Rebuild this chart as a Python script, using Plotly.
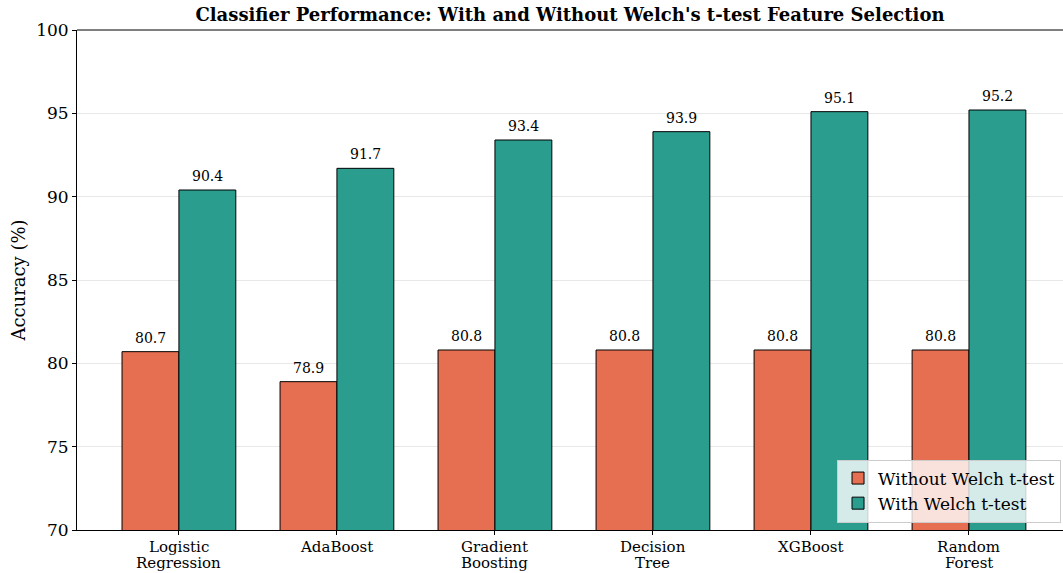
import plotly.graph_objects as go

classifiers = ["Logistic\nRegression", "AdaBoost", "Gradient\nBoosting",
               "Decision\nTree", "XGBoost", "Random\nForest"]
without_welch = [80.7, 78.9, 80.8, 80.8, 80.8, 80.8]
with_welch = [90.4, 91.7, 93.4, 93.9, 95.1, 95.2]

positions = list(range(len(classifiers)))
bar_w = 0.36
font_family = "DejaVu Serif"

fig = go.Figure()
fig.add_trace(go.Bar(
    x=positions, y=without_welch, width=bar_w, offset=-bar_w,
    name="Without Welch t-test",
    marker=dict(color="#E76F51", line=dict(color="black", width=1)),
))
fig.add_trace(go.Bar(
    x=positions, y=with_welch, width=bar_w, offset=0,
    name="With Welch t-test",
    marker=dict(color="#2A9D8F", line=dict(color="black", width=1)),
))

annotations = []
# value labels above each bar
for i, (a, b) in enumerate(zip(without_welch, with_welch)):
    for xv, yv in ((i - bar_w / 2, a), (i + bar_w / 2, b)):
        annotations.append(dict(
            x=xv, y=yv, text=f"{yv:.1f}", showarrow=False,
            yanchor="bottom", yshift=4,
            font=dict(family=font_family, size=14, color="black"),
        ))

# category labels under the axis, one line at a time for tight line spacing
for pos, label in zip(positions, classifiers):
    for k, line in enumerate(label.split("\n")):
        annotations.append(dict(
            x=pos, xref="x", y=0, yref="paper", text=line, showarrow=False,
            yanchor="middle", yshift=-17 - 16 * k,
            font=dict(family=font_family, size=15, color="black"),
        ))

fig.update_layout(
    width=1063, height=573,
    margin=dict(l=77, r=0, t=30, b=43),
    paper_bgcolor="white", plot_bgcolor="white",
    barmode="overlay",
    font=dict(family=font_family, color="black"),
    title=dict(
        text="<b>Classifier Performance: With and Without Welch's t-test Feature Selection</b>",
        x=0.5, xref="paper", xanchor="center", y=0.974, yanchor="middle",
        font=dict(family=font_family, size=18, color="black"),
    ),
    annotations=annotations,
    legend=dict(
        x=0.998, y=0.015, xanchor="right", yanchor="bottom",
        bgcolor="rgba(255,255,255,0.8)", bordercolor="#CCCCCC", borderwidth=1,
        font=dict(family=font_family, size=17, color="black"),
        tracegroupgap=2,
    ),
    xaxis=dict(
        range=[-0.645, 5.595], automargin=False,
        tickmode="array", tickvals=positions, showticklabels=False,
        ticks="outside", ticklen=4, tickcolor="black",
        showline=True, linecolor="black", linewidth=1,
        showgrid=False, zeroline=False,
    ),
    yaxis=dict(
        range=[70, 100], dtick=5, automargin=False,
        tickfont=dict(family=font_family, size=17, color="black"),
        ticks="outside", ticklen=4, tickcolor="black",
        showline=True, linecolor="black", linewidth=1, mirror=False,
        showgrid=True, gridcolor="#E8E8E8", gridwidth=1, zeroline=False,
        title=dict(text="Accuracy (%)", font=dict(family=font_family, size=18, color="black"), standoff=5),
    ),
    shapes=[dict(type="line", xref="paper", yref="paper", x0=0, x1=1, y0=1, y1=1,
                 line=dict(color="black", width=1))],
)

fig.write_html("out.html")
